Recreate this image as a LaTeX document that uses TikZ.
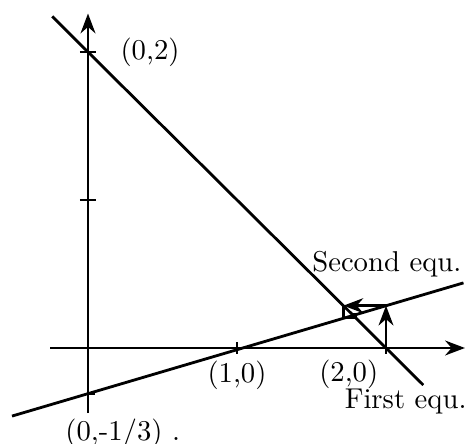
\documentclass[tikz,border=0pt]{standalone}
\usepackage{tikz}
\usetikzlibrary{arrows.meta,positioning,calc}
\begin{document}
\begin{tikzpicture}[x=1.8625cm,y=1.85cm,>=Stealth,font=\fontsize{10.2}{12}\selectfont]
\tikzset{axis/.style={->,line width=0.9pt},eqline/.style={line width=1pt},tick/.style={line width=0.8pt},
  lbl/.style={inner sep=0pt},iter/.style={->,line width=0.9pt},spiral/.style={line width=0.8pt}}
\useasboundingbox (-0.5906,-0.6486) rectangle (2.5705,2.3514);
% axes
\coordinate (xs) at (-0.255,0); \coordinate (xe) at (2.53,0);
\coordinate (ys) at (0,-0.44); \coordinate (ye) at (0,2.26);
\draw[axis] (xs) -- (xe);
\draw[axis] (ys) -- (ye);
\coordinate (p02) at (0,2); \coordinate (p01) at (0,1); \coordinate (pm13) at (0,-0.308);
\coordinate (p10) at (1,0); \coordinate (p20) at (2,0);
\foreach \y in {1,2} \draw[tick] (-0.055,\y) -- (0.055,\y);
\draw[tick] (-0.01,-0.308) -- (0.05,-0.308);
\foreach \x in {1,2} \draw[tick] (\x,-0.04) -- (\x,0.04);
% the two equations
\coordinate (f1) at (-0.24,2.24); \coordinate (f2) at (2.25,-0.25);
\coordinate (s1) at (-0.51,-0.46); \coordinate (s2) at (2.52,0.44);
\draw[eqline] (f1) -- (f2);
\draw[eqline] (s1) -- (s2);
% iteration
\coordinate (p21) at (2,0.286);
\coordinate (p31) at (1.714,0.286);
\draw[iter] (p20) -- (p21);
\draw[iter] (p21) -- (p31);
\coordinate (q1) at (1.714,0.201); \coordinate (q2) at (1.799,0.201);
\coordinate (q3) at (1.799,0.2264); \coordinate (q4) at (1.7736,0.2264);
\coordinate (q5) at (1.7736,0.2188);
\draw[spiral] (p31) -- (q1) -- (q2) -- (q3) -- (q4) -- (q5);
% labels
\node[lbl,right=4mm of p02] (l02) {(0,2)};
\node[lbl,below=1.5mm of p10] (l10) {(1,0)};
\node[lbl,below left=1.4mm and 0.9mm of p20] (l20) {(2,0)};
\node[lbl,anchor=north west] (lm13) at ($(pm13)+(-2.9mm,-3.1mm)$) {(0,-1/3)\hspace{1.2mm}.};
\node[lbl,above left=0.6mm and 0.2mm of s2] (lsec) {Second equ.};
\node[lbl,below=0.4mm of f2,xshift=-2.2mm] (lfir) {First equ.};
\end{tikzpicture}
\end{document}
